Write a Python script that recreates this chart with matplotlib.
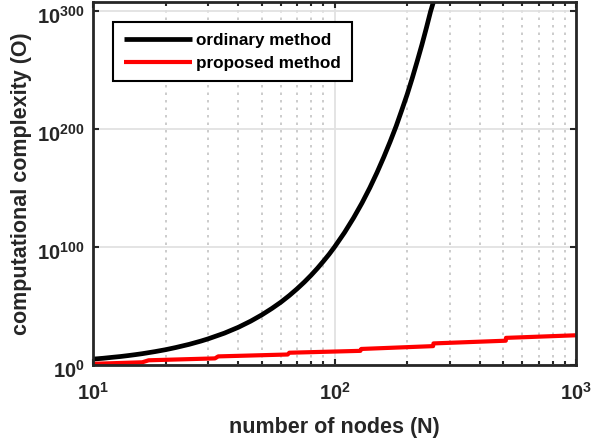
import numpy as np
import matplotlib
matplotlib.use("Agg")
import matplotlib.pyplot as plt
import matplotlib.transforms as mtransforms
from matplotlib.ticker import FixedLocator, NullLocator, LogFormatterMathtext, NullFormatter

# Data (y values given as decimal exponents)
black_N = [10, 11, 12, 13, 14, 15, 16, 18, 20, 22, 25, 28, 30, 35, 40, 45, 50,
           55, 60, 65, 70, 75, 80, 85, 90, 95, 100, 110, 120, 130, 140, 150,
           160, 170, 180, 190, 200, 210, 220, 230, 240, 250, 257]
black_exp = [5.0, 5.7, 6.5, 7.2, 8.0, 8.8, 9.6, 11.3, 13.0, 14.8, 17.5, 20.3,
             22.2, 27.0, 32.0, 37.2, 42.5, 47.9, 53.3, 58.9, 64.6, 70.3, 76.1,
             82.0, 88.0, 93.9, 100.0, 112.3, 124.8, 137.4, 150.2, 163.2, 176.3,
             189.4, 202.5, 216.2, 229.5, 243.4, 257.5, 271.4, 285.6, 299.8, 308.0]

red_N = [10, 16, 17, 32, 33, 64, 65, 128, 129, 256, 257, 512, 513, 1000]
red_exp = [1.0, 2.3, 4.0, 5.6, 7.3, 8.9, 10.4, 12.0, 13.6, 16.0, 18.3, 20.6,
           23.0, 25.2]

labels = ["ordinary method", "proposed method"]
xlabel = "number of nodes (N)"
ylabel = "computational complexity (O)"
x_major = [10, 100, 1000]
x_minor = [20, 30, 40, 50, 60, 70, 80, 90, 200, 300, 400, 500, 600, 700, 800, 900]
y_major = [1e0, 1e100, 1e200, 1e300]

plt.rcParams['font.family'] = ['Liberation Sans', 'DejaVu Sans']
plt.rcParams['mathtext.fontset'] = 'custom'
plt.rcParams['mathtext.rm'] = 'Liberation Sans:bold'
plt.rcParams['mathtext.it'] = 'Liberation Sans:bold'
plt.rcParams['mathtext.bf'] = 'Liberation Sans:bold'

tc = '#262626'
fig = plt.figure(figsize=(5.94, 4.42), dpi=100)
ax = fig.add_axes([93/594, (442-365)/442, (576-93)/594, (365-1.5)/442])

black_y = [10.0**e for e in black_exp]
red_y = [10.0**e for e in red_exp]
ax.plot(black_N, black_y, color='black', lw=3.4, label=labels[0],
        solid_capstyle='butt', solid_joinstyle='round')
ax.plot(red_N, red_y, color='#ff0000', lw=3.0, label=labels[1],
        solid_capstyle='butt', solid_joinstyle='round')

ax.set_xscale('log')
ax.set_yscale('log')
ax.set_xlim(10, 1000)
ax.set_ylim(1, 10**308.2)
ax.xaxis.set_major_locator(FixedLocator(x_major))
ax.xaxis.set_minor_locator(FixedLocator(x_minor))
ax.yaxis.set_major_locator(FixedLocator(y_major))
ax.yaxis.set_minor_locator(NullLocator())
ax.xaxis.set_major_formatter(LogFormatterMathtext())
ax.yaxis.set_major_formatter(LogFormatterMathtext())
ax.xaxis.set_minor_formatter(NullFormatter())

ax.set_axisbelow(True)
ax.grid(True, which='major', color='#e2e2e2', lw=1.3, ls='-')
ax.grid(True, which='minor', axis='x', color='#c4c4c4', lw=1.2, ls=(0, (1.5, 3)))

for s in ax.spines.values():
    s.set_color(tc)
    s.set_linewidth(2.0)

ax.tick_params(which='both', direction='in', top=True, right=True, color=tc,
               width=1.5, labelcolor=tc, labelsize=14.5)
ax.tick_params(which='major', length=4)
ax.tick_params(which='minor', length=3)
ax.tick_params(axis='x', which='major', pad=12.5)
ax.tick_params(axis='y', which='major', pad=6)
for lab in ax.get_xticklabels() + ax.get_yticklabels():
    lab.set_fontweight('bold')
off = mtransforms.ScaledTranslation(0, -4/100, fig.dpi_scale_trans)
for lab in ax.get_yticklabels():
    lab.set_transform(lab.get_transform() + off)

ax.set_xlabel(xlabel, fontsize=15.5, fontweight='bold', color=tc, labelpad=9.5)
ax.set_ylabel(ylabel, fontsize=15.5, fontweight='bold', color=tc, labelpad=4)

leg = ax.legend(loc='upper left', bbox_to_anchor=(20/483, (365-22)/363.5),
                borderaxespad=0, fancybox=False, framealpha=1, edgecolor='black',
                prop={'weight': 'bold', 'size': 12.3}, handlelength=4.0,
                handletextpad=0.25, borderpad=0.62, labelspacing=0.48)
leg.get_frame().set_linewidth(1.5)
for t in leg.get_texts():
    t.set_color('black')

fig.savefig('out.png', dpi=100)
